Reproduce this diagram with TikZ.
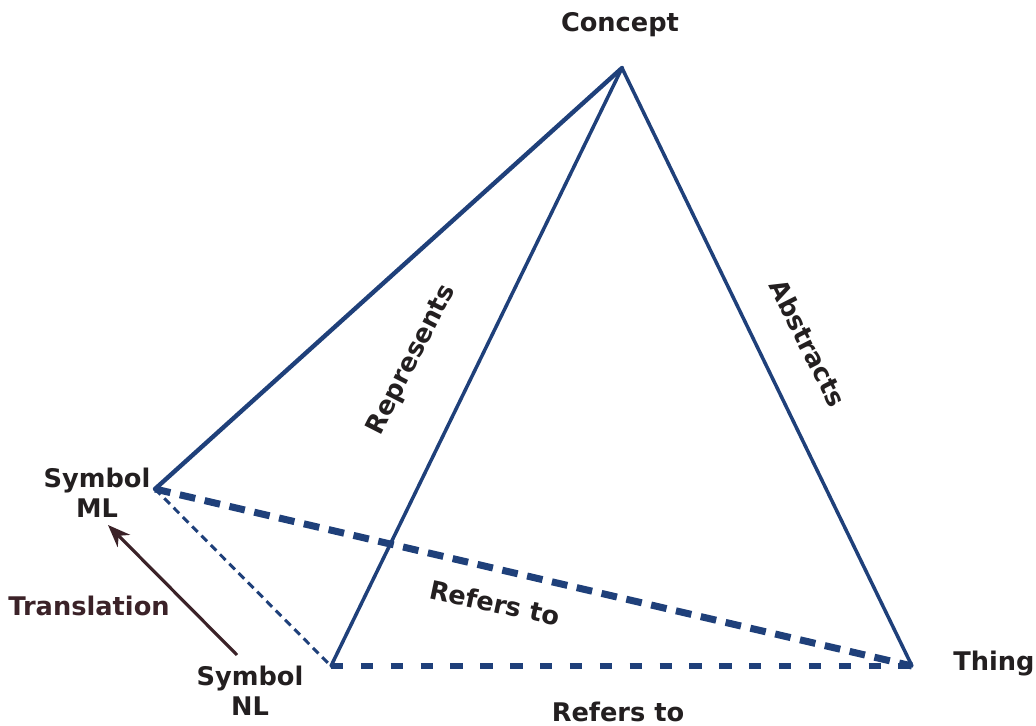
\documentclass[tikz,border=0pt]{standalone}
\usepackage{fontspec}
\setmainfont{DejaVu Sans}
\usepackage{tikz}
\usepackage{xcolor}
\usetikzlibrary{arrows.meta, positioning, calc}
\definecolor{cEdge}{RGB}{31,64,122}
\definecolor{cText}{RGB}{35,31,32}
\definecolor{cTrans}{RGB}{59,34,40}
\tikzset{
	lbl/.style      ={font=\fontsize{14.6}{17}\selectfont\bfseries, text=cText, align=center, inner sep=0pt},
	solidedge/.style={cEdge, line width=2pt, line cap=round, line join=round},
	refedge/.style  ={cEdge, line width=4pt, dash pattern=on 9pt off 5.5pt},
	baseedge/.style ={cEdge, line width=3pt, dash pattern=on 7pt off 10pt},
	fineedge/.style ={cEdge, line width=1.7pt, dash pattern=on 4.5pt off 3pt},
	transarrow/.style={-{Stealth[length=4.5mm, width=3.5mm]}, cTrans, line width=1.8pt},
}
\begin{document}
\begin{tikzpicture}[x=0.02cm, y=-0.02cm]
	\useasboundingbox (0,0) rectangle (1036,726);
	% corners of the tetrahedron
	\coordinate (concept) at (622,68);
	\coordinate (symml) at (155,489);
	\coordinate (symnl) at (331,666);
	\coordinate (thing) at (912,666);
	% solid edges
	\draw[solidedge, line width=2.5pt] (concept) -- (symml);
	\draw[solidedge] (concept) -- (symnl);
	\draw[solidedge] (concept) -- (thing);
	% dashed edges
	\draw[refedge] (symml) -- (thing);
	\draw[baseedge] (symnl) -- (thing);
	\draw[fineedge] (symml) -- (symnl);
	% labels
	\node[lbl] (lconcept) at (620,25) {Concept};
	\node[lbl] (lsymml) at (97,493) {Symbol\\ML};
	\node[lbl] (lsymnl) at (250,691) {Symbol\\NL};
	\node[lbl, anchor=west] (lthing) at (953,664) {Thing};
	\node[lbl] (lrefbase) at (618,712) {Refers to};
	\node[lbl, rotate=-12] (lrefmid) at (495,603) {Refers to};
	\node[lbl, rotate=63] (lrep) at (412,360) {Represents};
	\node[lbl, rotate=-63] (labs) at (808,343) {Abstracts};
	\node[lbl, text=cTrans] (ltrans) at (89,606) {Translation};
	% translation arrow
	\coordinate (tstart) at (237,655);
	\coordinate (tend) at (108,525);
	\draw[transarrow] (tstart) -- (tend);
\end{tikzpicture}
\end{document}
